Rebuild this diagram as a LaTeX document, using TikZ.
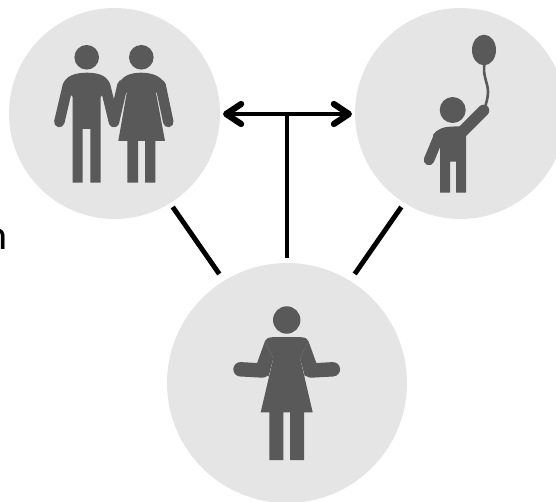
\documentclass[tikz,border=0pt]{standalone}
\usepackage{fontspec}
\setmainfont{Carlito}
\usetikzlibrary{arrows.meta,shapes.geometric}
\definecolor{disc}{RGB}{229,229,229}
\definecolor{figc}{RGB}{89,89,89}
\tikzset{
  disc/.style={circle,fill=disc,draw=none,inner sep=0pt},
  fig/.style={fill=figc,draw=none},
  limb/.style={draw=figc,line cap=round,line join=round},
  link/.style={draw=black,line width=4.9pt},
  barb/.tip={Straight Barb[length=15pt,width=20pt,line width=6.2pt,round]},
  both/.style={draw=black,line width=4.4pt,barb-barb}
}
\begin{document}
\begin{tikzpicture}[x=1pt,y=-1pt]
\useasboundingbox (0,0) rectangle (556,502);
\begin{scope}
\clip (0,0) rectangle (556,502);
\node[disc,minimum size=211pt] (couple) at (114.5,113.5) {};
\node[disc,minimum size=211pt] (child) at (460.5,113.5) {};
\node[disc,minimum size=240pt] (woman) at (287,383) {};
\end{scope}
\node[anchor=base west,font=\fontsize{42}{46}\selectfont,inner sep=0pt] (cut) at (-14.5,250) {n};
% man
\node[fig,circle,minimum size=24.6pt,inner sep=0pt] (manhead) at (86.7,57.3) {};
\fill[fig] (72.7,182.7) -- (72.7,97) -- (63,85) .. controls (65,76) and (75,72.7) .. (87,72.7) .. controls (99,72.7) and (108,76) .. (110,85)
  -- (100.7,97) -- (100.7,182.7) -- (90.3,182.7) -- (90.3,129) -- (82.7,129) -- (82.7,182.7) -- cycle;
\draw[limb,line width=10.5pt] (68,85) -- (59.3,122);
\draw[limb,line width=10.5pt] (105,85) -- (114,122);
% woman of the couple
\node[fig,circle,minimum size=24.6pt,inner sep=0pt] (wifehead) at (141.3,57.3) {};
\fill[fig] (127.3,182.7) -- (127.3,141) -- (118.3,141) -- (126.7,93) -- (118,85) .. controls (122,76) and (130,72.7) .. (141,72.7) .. controls (152,72.7) and (162,76) .. (165,85)
  -- (156,93) -- (165,141) -- (155.3,141) -- (155.3,182.7) -- (145,182.7) -- (145,141) -- (138,141) -- (138,182.7) -- cycle;
\draw[limb,line width=10.5pt] (122.5,85) -- (114,122);
\draw[limb,line width=10.5pt] (160.5,85) -- (168.3,122);
% child
\node[fig,circle,minimum size=26pt,inner sep=0pt] (kidhead) at (452.7,110) {};
\fill[fig] (440,192.7) -- (440,147) -- (433,135) .. controls (437,129) and (444,126.7) .. (450,126.7) -- (465,126) -- (466,135) -- (466,192.7) -- (456,192.7) -- (456,161.7) -- (450,161.7) -- (450,192.7) -- cycle;
\draw[limb,line width=10.5pt] (439,136) -- (429,160);
\draw[limb,line width=11.5pt] (461,133) -- (483.5,110.5);
\node[fig,ellipse,minimum width=24pt,minimum height=30.6pt,inner sep=0pt] (balloon) at (484,50) {};
\draw[figc,line width=2.6pt] (484.7,62) .. controls (482,76) and (488,82) .. (488,92) .. controls (488,98) and (486,103) .. (485,108);
% lone woman
\node[fig,circle,minimum size=27.4pt,inner sep=0pt] (herhead) at (286.7,320) {};
\fill[fig] (269.3,460) -- (269.3,412.3) -- (260.7,412.3) -- (273.3,358.3) -- (265,341) .. controls (266,338) and (268,337.5) .. (275,337) -- (298.4,337) .. controls (305.4,337.5) and (307.4,338) .. (308.4,341) -- (300.1,358.3) -- (312.7,412.3) -- (304,412.3) -- (304,460) -- (290,460) -- (290,412.3) -- (283.3,412.3) -- (283.3,460) -- cycle;
\fill[fig] (265,341) -- (256,366) -- (268.5,376.5) -- (273.3,358.3) -- cycle;
\fill[fig] (308.4,341) -- (317.4,366) -- (304.9,376.5) -- (300.1,358.3) -- cycle;
\draw[limb,line width=14.4pt] (240.5,369.3) -- (262.5,370.5);
\draw[limb,line width=14.4pt] (332.9,369.3) -- (310.9,370.5);
% connectors
\coordinate (coupleout) at (172.7,207);
\coordinate (womanleft) at (219.3,274);
\coordinate (childout) at (401.3,207);
\coordinate (womanright) at (354.7,274);
\coordinate (womantop) at (287,258);
\coordinate (barl) at (223,114);
\coordinate (barr) at (352,114);
\coordinate (barm) at (287,114);
\draw[link] (coupleout) -- (womanleft);
\draw[link] (childout) -- (womanright);
\draw[link] (womantop) -- (barm);
\draw[both] (barl) -- (barr);
\end{tikzpicture}
\end{document}
